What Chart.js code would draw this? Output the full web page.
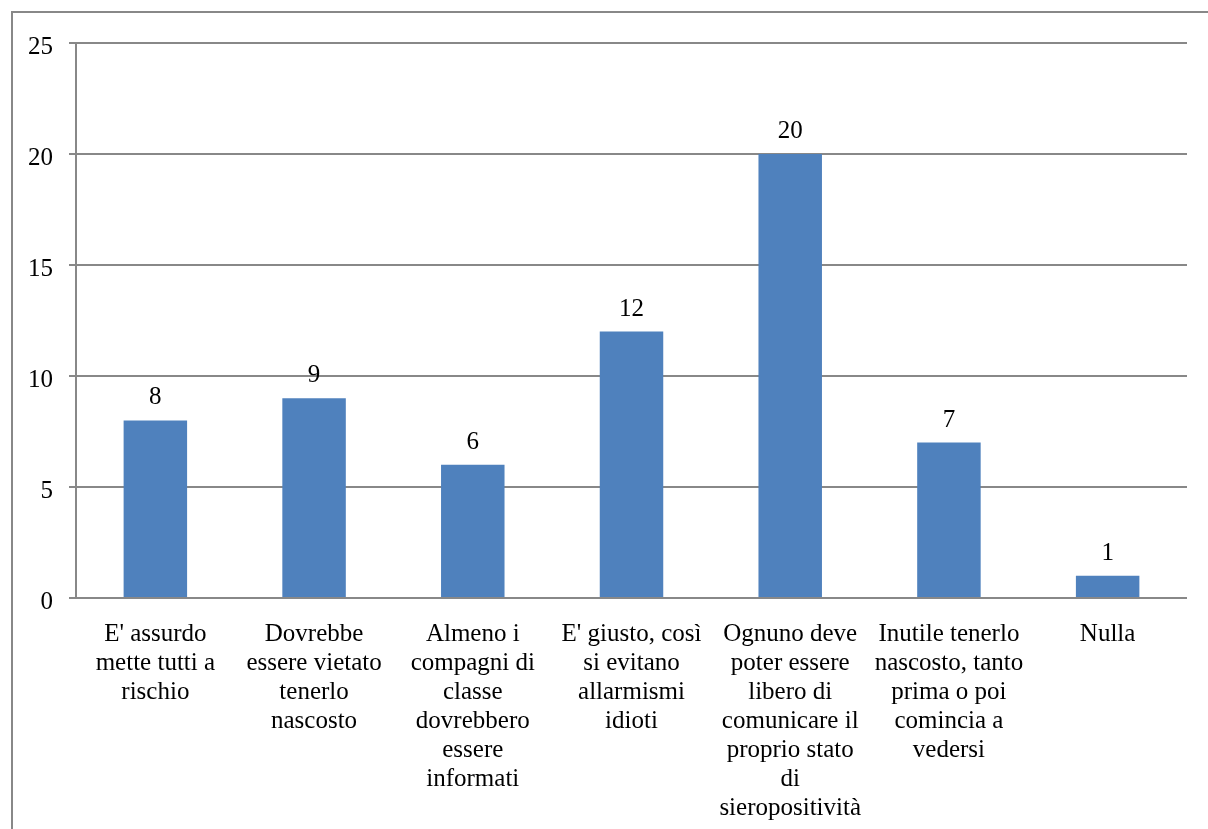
<!DOCTYPE html>
<html>
<head>
<meta charset="utf-8">
<script src="https://cdn.jsdelivr.net/npm/chart.js@4"></script>
<style>
  html, body { margin: 0; padding: 0; background: #fff; }
  #wrap { width: 1208px; height: 829px; position: relative; }
</style>
</head>
<body>
<div id="wrap"><canvas id="chart" width="1208" height="829"></canvas></div>
<script>
// categories (already split into lines like the original)
const categories = [
    ["E' assurdo", "mette tutti a", "rischio"],
    ["Dovrebbe", "essere vietato", "tenerlo", "nascosto"],
    ["Almeno i", "compagni di", "classe", "dovrebbero", "essere", "informati"],
    ["E' giusto, così", "si evitano", "allarmismi", "idioti"],
    ["Ognuno deve", "poter essere", "libero di", "comunicare il", "proprio stato", "di", "sieropositività"],
    ["Inutile tenerlo", "nascosto, tanto", "prima o poi", "comincia a", "vedersi"],
    ["Nulla"]
];
const values = [8, 9, 6, 12, 20, 7, 1];
const yTicks = [0, 5, 10, 15, 20, 25];

const fontFamily = "'Liberation Serif', 'Times New Roman', serif";
const gridColor = '#888888';
const barColor = '#4f81bd';

// cornice esterna (bordo sinistro e superiore)
const framePlugin = {
    id: 'frame',
    beforeDraw(chart) {
        const ctx = chart.ctx;
        ctx.save();
        ctx.strokeStyle = gridColor;
        ctx.lineWidth = 2;
        ctx.beginPath();
        ctx.moveTo(12, 829);
        ctx.lineTo(12, 12);
        ctx.lineTo(1208, 12);
        ctx.stroke();
        ctx.restore();
    }
};

// etichette dei valori sopra le barre
const valueLabels = {
    id: 'valueLabels',
    afterDatasetsDraw(chart) {
        const ctx = chart.ctx;
        const meta = chart.getDatasetMeta(0);
        ctx.save();
        ctx.font = '25px ' + fontFamily;
        ctx.fillStyle = '#000';
        ctx.textAlign = 'center';
        ctx.textBaseline = 'alphabetic';
        meta.data.forEach((bar, i) => {
            ctx.fillText(String(values[i]), bar.x, bar.y - 16);
        });
        ctx.restore();
    }
};

new Chart(document.getElementById('chart'), {
    type: 'bar',
    data: {
        labels: categories,
        datasets: [{
            data: values,
            backgroundColor: barColor,
            borderWidth: 0,
            categoryPercentage: 1,
            barPercentage: 0.4
        }]
    },
    options: {
        responsive: false,
        animation: false,
        layout: { padding: { left: 0, right: 21, top: 43, bottom: 0 } },
        plugins: {
            legend: { display: false },
            tooltip: { enabled: false }
        },
        scales: {
            x: {
                grid: { display: false, drawTicks: false },
                border: { display: false },
                ticks: {
                    color: '#000',
                    padding: 22,
                    maxRotation: 0,
                    autoSkip: false,
                    font: { family: fontFamily, size: 25, lineHeight: 1.16 }
                },
                afterFit(scale) { scale.height = 829 - 598; }
            },
            y: {
                min: 0,
                max: 25,
                afterBuildTicks(scale) {
                    scale.ticks = yTicks.map(v => ({ value: v }));
                },
                grid: { color: gridColor, lineWidth: 2, tickLength: 7 },
                border: { display: true, color: gridColor, width: 2 },
                ticks: {
                    color: '#000',
                    padding: 16,
                    labelOffset: 4,
                    font: { family: fontFamily, size: 25 }
                },
                afterFit(scale) { scale.width = 76; }
            }
        }
    },
    plugins: [framePlugin, valueLabels]
});
</script>
</body>
</html>
